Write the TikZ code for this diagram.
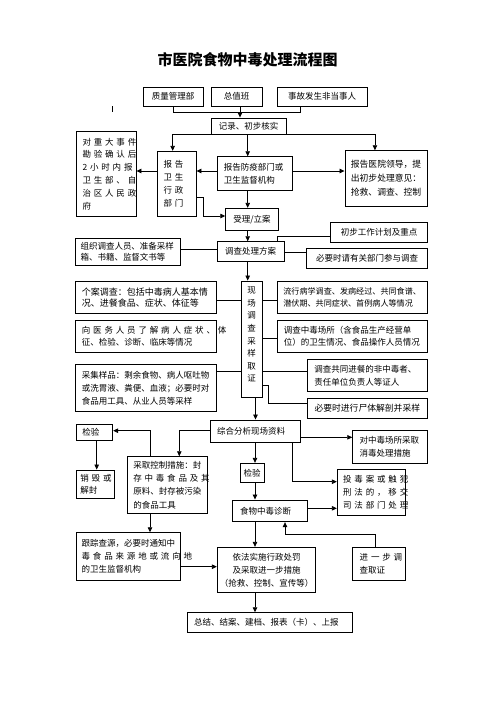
\documentclass[tikz,border=0pt]{standalone}
\usepackage{fontspec}
\setmainfont{Noto Sans CJK SC}
\usetikzlibrary{arrows.meta}
\newcommand\fs{\fontsize{8.5}{12.8}\selectfont}
\newcommand\spr[2]{\makebox[#1][s]{#2}}
\begin{document}
\begin{tikzpicture}[x=1pt,y=-1pt,
  bx/.style={draw, line width=0.9pt, inner sep=0pt, font=\fs, align=left},
  ar/.style={line width=0.8pt, -{Triangle[length=5pt,width=4.5pt]}},
  ln/.style={line width=0.8pt}]
\useasboundingbox (0,0) rectangle (496,702);
\fill[white] (0,0) rectangle (496,702);
% title
\node[font=\fontsize{15}{18}\selectfont\bfseries] (tt) at (247.5,60) {市医院食物中毒处理流程图};
% top row
\node[bx,minimum width=60pt,minimum height=19pt] (zl) at (173,96.5) {质量管理部};
\node[bx,minimum width=51pt,minimum height=19pt] (zb) at (236.5,96.5) {总值班};
\node[bx,minimum width=90pt,minimum height=19pt] (sg) at (322,96.5) {事故发生非当事人};
\node[bx,minimum width=75pt,minimum height=16pt] (jl) at (248.5,126) {记录、初步核实};
% report row
\node[bx,minimum width=60pt,minimum height=85pt,text width=47pt] (zd) at (106,173.8)
  {\spr{47pt}{对 重 大 事 件}\\\spr{47pt}{勘 验 确 认 后}\\\spr{47pt}{2 小 时 内 报}\\\spr{47pt}{卫 生 部 、 自}\\\spr{47pt}{治 区 人 民 政}\\府};
\node[bx,minimum width=38.7pt,minimum height=65pt,text width=26pt] (ws) at (176.65,183.8)
  {\spr{26pt}{报 告}\\\spr{26pt}{卫 生}\\\spr{26pt}{行 政}\\\spr{26pt}{部 门}};
\node[bx,minimum width=75pt,minimum height=33.3pt,text width=62pt] (fy) at (254.8,173.35) {报告防疫部门或\\卫生监督机构};
\node[bx,minimum width=82.7pt,minimum height=55.3pt,text width=71pt,font=\fontsize{8.8}{14}\selectfont] (yy) at (386.35,178.35) {报告医院领导，提\\出初步处理意见：\\抢救、调查、控制};
\node[bx,minimum width=52.6pt,minimum height=22.4pt] (sl) at (252,219.5) {受理/立案};
% plan row
\node[bx,minimum width=66.7pt,minimum height=20pt] (dc) at (250.65,251.7) {调查处理方案};
\node[bx,minimum width=105pt,minimum height=26.7pt,text width=94pt,font=\fontsize{8.5}{11.5}\selectfont] (zz) at (127.5,251.65) {组织调查人员、准备采样\\箱、书籍、监督文书等};
\node[bx,minimum width=96.6pt,minimum height=20pt] (cb) at (379,232.7) {初步工作计划及重点};
\node[bx,minimum width=120.6pt,minimum height=20pt] (by) at (367,258.3) {必要时请有关部门参与调查};
% field investigation
\node[bx,minimum width=21.3pt,minimum height=116.7pt,align=center,font=\fontsize{8.5}{12.6}\selectfont] (xc) at (251.65,339.35)
  {现\\场\\调\\查\\采\\样\\取\\证\\[-2.6pt]~};
\node[bx,minimum width=141.7pt,minimum height=31.6pt,text width=128pt,font=\fontsize{9}{11.5}\selectfont] (ga) at (145.85,297.5) {个案调查：包括中毒病人基本情\\况、进餐食品、症状、体征等};
\node[bx,minimum width=141.7pt,minimum height=32.7pt,text width=128pt] (xy) at (145.85,336.35) {\spr{127pt}{向 医 务 人 员 了 解 病 人 症 状 、 体}\\征、检验、诊断、临床等情况};
\node[bx,minimum width=141.7pt,minimum height=47.2pt,text width=128pt] (cj) at (145.85,388.1) {采集样品：剩余食物、病人呕吐物\\或洗胃液、粪便、血液；必要时对\\食品用工具、从业人员等采样};
\node[bx,minimum width=150pt,minimum height=31.6pt,text width=138pt,font=\fontsize{8.1}{12}\selectfont] (lx) at (352.3,297.5) {流行病学调查、发病经过、共同食谱、\\潜伏期、共同症状、首例病人等情况};
\node[bx,minimum width=150pt,minimum height=32.7pt,text width=137pt] (dz) at (352.3,336.35) {调查中毒场所（含食品生产经营单\\位）的卫生情况、食品操作人员情况};
\node[bx,minimum width=120pt,minimum height=32.4pt,text width=106pt] (dg) at (367.3,375.5) {调查共同进餐的非中毒者、\\责任单位负责人等证人};
\node[bx,minimum width=120pt,minimum height=20pt,font=\fontsize{8.8}{12}\selectfont] (st) at (367.3,408.3) {必要时进行尸体解剖并采样};
% analysis
\node[bx,minimum width=90pt,minimum height=22.7pt,text width=77pt] (zh) at (255.7,431.35) {综合分析现场资料};
\node[bx,minimum width=36.7pt,minimum height=16pt,text width=24pt] (jy1) at (94.35,432) {检验};
\node[bx,minimum width=38pt,minimum height=28.3pt,text width=29.3pt,font=\fontsize{8.5}{12.4}\selectfont] (xh) at (95,484.15) {\spr{29.3pt}{销 毁 或}\\解封};
\node[bx,minimum width=79.5pt,minimum height=56.3pt,text width=68pt,font=\fontsize{8.5}{13.3}\selectfont] (cq) at (167.25,484.85)
  {采取控制措施：封\\\spr{68pt}{存 中 毒 食 品 及 其}\\原料、封存被污染\\的食品工具};
\node[bx,minimum width=24pt,minimum height=19.4pt] (jy2) at (252,473) {检验};
\node[bx,minimum width=74.6pt,minimum height=21.7pt,text width=60pt] (sw) at (270,510.85) {食物中毒诊断};
\node[bx,minimum width=75pt,minimum height=32.6pt,text width=61pt] (dx) at (390.2,447) {对中毒场所采取\\消毒处理措施};
\node[bx,minimum width=67.7pt,minimum height=45.7pt,text width=56pt,font=\fontsize{8.5}{13}\selectfont] (td) at (371.15,492.15)
  {\spr{56pt}{投 毒 案 或 触 犯}\\\spr{56pt}{刑 法 的 ， 移 交}\\\spr{56pt}{司 法 部 门 处 理}};
% bottom
\node[bx,minimum width=104.7pt,minimum height=47.3pt,text width=93.5pt] (gz) at (128.35,556.35)
  {跟踪查源，必要时通知中\\\spr{93.5pt}{毒 食 品 来 源 地 或 流 向 地}\\的卫生监督机构};
\node[bx,minimum width=98.4pt,minimum height=45.4pt,align=center] (yf) at (266.5,570) {依法实施行政处罚\\及采取进一步措施\\（抢救、控制、宣传等）};
\node[bx,minimum width=52.3pt,minimum height=33.4pt,text width=38.3pt] (jb) at (378.85,564) {\spr{38.3pt}{进 一 步 调}\\查取证};
\node[bx,minimum width=165.4pt,minimum height=19.6pt,text width=152pt] (zj) at (270,622.5) {总结、结案、建档、报表（卡）、上报};
% helper coordinates
\coordinate (a1) at ([xshift=3.5pt]zb.south);
\coordinate (k1) at ([xshift=-4pt]ws.north);
\coordinate (k2) at ([xshift=-11.4pt]yy.north);
\coordinate (k3) at ([xshift=-0.8pt]jl.south);
\coordinate (k4) at (247.7,0);
\coordinate (k5) at (277.3,0);
\coordinate (k7) at (255.5,0);
\coordinate (k8) at (179.3,0);
\coordinate (k9) at (150,0);
\coordinate (k10) at (96.7,0);
\coordinate (kt) at (255,0);
\coordinate (k11) at (292.3,0);
\coordinate (k12) at (285,0);
\coordinate (r171) at (0,171);
\coordinate (r197) at (0,197.3);
\coordinate (r216) at (0,216);
\coordinate (r249) at (0,249);
\coordinate (r236) at (0,236);
\coordinate (r2527) at (0,252.7);
\coordinate (r300) at (0,300);
\coordinate (r338) at (0,338.3);
\coordinate (r372) at (0,371.7);
\coordinate (r385) at (0,385);
\coordinate (r403) at (0,403.3);
\coordinate (r4307) at (0,430.7);
\coordinate (r437) at (0,437.3);
\coordinate (r4817) at (0,481.7);
\coordinate (r508) at (0,508.3);
\coordinate (r5667) at (0,566.7);
\coordinate (r534) at (0,534);
\coordinate (tk1) at (112.7,106);
\coordinate (tk2) at (112.7,111.7);
% connectors
\draw[ln] (tk1) -- (tk2);
\draw[ln] (zl.south) -- ++(0,6) -| ([xshift=-22pt]sg.south);
\draw[ar] (a1) -- (a1 |- jl.north);
\draw[ar] (jl.south) -| (k1);
\draw[ar] (jl.south) -| (k2);
\draw[ar] (k3) -- (k3 |- fy.north);
\draw[ar] (fy.west |- r171) -- (ws.east |- r171);
\draw[ar] (ws.west |- r171) -- (zd.east |- r171);
\draw[ar] (fy.east |- r171) -- (yy.west |- r171);
\draw[ar] (fy.south -| k4) -- (sl.north -| k4);
\draw[ar] (ws.east |- r197) -- ++(6.7,0) |- (sl.west |- r216);
\draw[ar] (sl.south -| k4) -- (dc.north -| k4);
\draw[ln] (zz.east |- r249) -- (dc.west |- r249);
\draw[ln] (dc.north -| k5) |- (cb.west |- r236);
\draw[ln] (dc.east |- r2527) -- (by.west |- r2527);
\draw[ar] (dc.south -| k4) -- (xc.north -| k4);
\draw[ln] (ga.east |- r300) -- (xc.west |- r300);
\draw[ln] (cj.east |- r372) -- (xc.west |- r372);
\draw[ln] (xc.east |- r300) -- (lx.west |- r300);
\draw[ln] (xc.east |- r338) -- (dz.west |- r338);
\draw[ln] (xc.east |- r372) -- (dg.west |- r372);
\draw[ln] (xc.east |- r385) -- ++(5.6,0) |- (st.west |- r403);
\draw[ar] (xc.south -| k7) -- (zh.north -| k7);
\draw[ar] (zh.west |- r4307) -| (cq.north -| k8);
\draw[ar] (cq.north -| k9) |- (jy1.east |- r4307);
\draw[ar] (jy1.south -| k10) -- (xh.north -| k10);
\draw[ar] (zh.south -| kt) -- (jy2.north -| kt);
\draw[ar] (jy2.south -| kt) -- (sw.north -| kt);
\draw[ar] (sw.south -| kt) -- (yf.north -| kt);
\draw[ar] (yf.south -| kt) -- (zj.north -| kt);
\draw[ar] (zh.east |- r437) -- (dx.west |- r437);
\draw[ar] (zh.south -| k11) |- (td.west |- r4817);
\draw[ar] (sw.east |- r508) -- (td.west |- r508);
\draw[ar] (cq.south -| k9) -- (gz.north -| k9);
\draw[ar] (gz.east |- r5667) -- (yf.west |- r5667);
\draw[ar] (jb.north -| k2) |- (k12 |- r534) -- (sw.south -| k12);
\end{tikzpicture}
\end{document}
